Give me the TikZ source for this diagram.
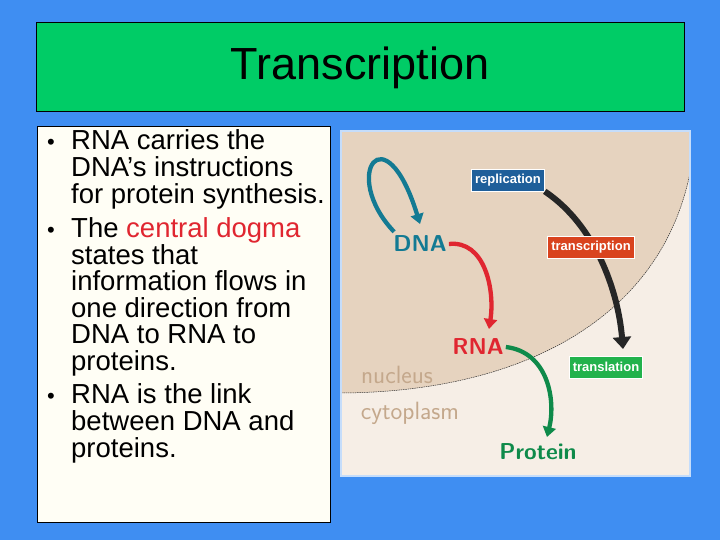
\documentclass[tikz,border=0pt]{standalone}
\usepackage{fontspec}
\setmainfont{Liberation Sans}
\usetikzlibrary{arrows.meta}
\definecolor{bg}{HTML}{3F8EF2}
\definecolor{ttl}{HTML}{00CC66}
\definecolor{nuc}{HTML}{E6D3BF}
\definecolor{cyt}{HTML}{F6EEE6}
\definecolor{dnac}{HTML}{137A93}
\definecolor{rnac}{HTML}{E02630}
\definecolor{protc}{HTML}{0E8A4A}
\definecolor{lblc}{HTML}{C4A88C}
\definecolor{repc}{HTML}{1F5F9A}
\definecolor{trc}{HTML}{D9431E}
\definecolor{tlc}{HTML}{22B24C}
\tikzset{x=1pt,y=-1pt,
 line/.style={anchor=base west,inner sep=0,font=\fontsize{27.5}{30}\selectfont},
 mol/.style={font=\fontsize{23}{26}\sffamily\bfseries,inner sep=2pt},
 tag/.style={draw=white,line width=0.8pt,text=white,font=\fontsize{13}{15}\selectfont\bfseries,inner sep=3.5pt,minimum height=22},
 flow/.style={line width=4.3pt,-{Triangle[length=10pt,width=13pt]}}}
\begin{document}
\begin{tikzpicture}
\fill[bg] (0,0) rectangle (720,540);
\useasboundingbox (0,0) rectangle (720,540);
\draw[fill=ttl] (36,22) rectangle (684,111);
\node[font=\fontsize{45}{48}\selectfont] (title) at (360,68) {Transcription};
\draw[fill=white!96!yellow] (37,126) rectangle (330,522);
\foreach \y in {142,229,395}
  \node[line,font=\fontsize{22}{24}\selectfont] at (47,\y+8) {•};
\node[line] at (71,150) {RNA carries the};
\node[line] at (71,177) {DNA’s instructions};
\node[line] at (71,204) {for protein synthesis.};
\node[line] at (71,237) {The \textcolor{rnac}{central dogma}};
\node[line] at (71,264) {states that};
\node[line] at (71,290) {information flows in};
\node[line] at (71,317) {one direction from};
\node[line] at (71,343) {DNA to RNA to};
\node[line] at (71,370) {proteins.};
\node[line] at (71,403) {RNA is the link};
\node[line] at (71,430) {between DNA and};
\node[line] at (71,457) {proteins.};
% figure
\fill[cyt] (341,131) rectangle (690,476);
\fill[nuc] (341,131) -- (341,393) .. controls (520,392) and (660,320) .. (690,173) -- (690,131) -- cycle;
\draw[black!80,line width=0.5pt,dashed,dash pattern=on 1.5pt off 0.8pt] (341,393) .. controls (520,392) and (660,320) .. (690,173);
\draw[white!70!bg,line width=2pt] (341,131) rectangle (690,476);
\node[lblc,font=\fontsize{25}{28}\sffamily] (nucl) at (397,375) {nucleus};
\node[lblc,font=\fontsize{25}{28}\sffamily] (cyto) at (410,413) {cytoplasm};
\node[mol,text=dnac] (dna) at (420,244) {DNA};
\node[mol,text=rnac] (rna) at (478,347) {RNA};
\node[mol,text=protc] (prot) at (538,452) {Protein};
\draw[flow,dnac] (dna.north west)++(3,-2) coordinate (d0) .. controls (340,175) and (385,110) .. (420,224);
\draw[flow,rnac] (dna.east) .. controls (485,240) and (495,290) .. (489,329);
\draw[flow,protc] (rna.east) .. controls (548,352) and (556,400) .. (547,437);
\node[tag,fill=repc] (rep) at (508,180) {replication};
\node[tag,fill=trc] (tr) at (591,247) {transcription};
\node[tag,fill=tlc] (tl) at (606,367) {translation};
\draw[line width=6pt,-{Triangle[length=12pt,width=18pt]},black!85] (rep.south east) .. controls (595,225) and (618,290) .. (623,349);
\node[tag,fill=trc] at (591,247) {transcription};
\end{tikzpicture}
\end{document}
